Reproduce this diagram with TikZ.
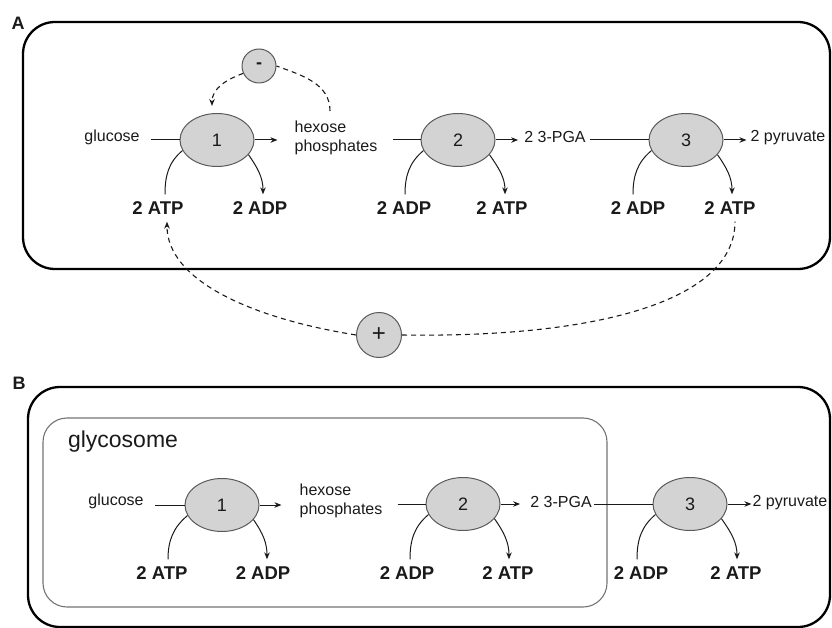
\documentclass[tikz,border=0pt]{standalone}
\usepackage{fontspec}
\setmainfont{Liberation Sans}
\usetikzlibrary{arrows.meta,shapes.geometric}
\definecolor{enzfill}{HTML}{D3D3D3}
\definecolor{enzline}{HTML}{5A5A5A}
\definecolor{txt}{HTML}{1A1A1A}
\begin{document}
\begin{tikzpicture}[x=1pt,y=-1pt,
  enz/.style={ellipse,draw=enzline,fill=enzfill,line width=1pt,minimum width=74pt,minimum height=53pt,inner sep=0pt,text=txt,font=\fontsize{18}{20}\selectfont},
  reg/.style={circle,draw=enzline,fill=enzfill,line width=1pt,minimum size=#1,inner sep=0pt,text=txt},
  met/.style={font=\fontsize{16}{19}\selectfont,inner sep=1pt,text=txt},
  nuc/.style={font=\bfseries\fontsize{18.5}{20}\selectfont,inner xsep=1pt,inner ysep=7pt,text=txt},
  panel/.style={font=\bfseries\fontsize{18}{20}\selectfont,inner sep=0pt,text=txt},
  flow/.style={line width=1pt,draw=txt,-{Stealth[length=7pt,width=5.5pt]}},
  plainln/.style={line width=1pt,draw=txt},
  fb/.style={line width=1.1pt,draw=txt,dash pattern=on 5pt off 4pt},
  fbarrow/.style={fb,-{Stealth[length=7pt,width=5.5pt]}},
  outerbox/.style={line width=2.3pt,draw=black,rounded corners=32pt},
  glybox/.style={line width=1.1pt,draw=black!55,rounded corners=24pt},
]
\useasboundingbox (0,0) rectangle (832,628);

% ---------------- Panel A ----------------
\node[panel] (labA) at (18,23) {A};
\draw[outerbox] (23,22) rectangle (830,269);

\node[enz] (a1) at (217,140) {1};
\node[enz] (a2) at (458,140) {2};
\node[enz] (a3) at (686,140) {3};

\node[met] (aglu) at (112,137) {glucose};
\node[met,align=left] (ahex) at (336,138) {hexose\\phosphates};
\node[met] (apga) at (555,137) {2 3-PGA};
\node[met] (apyr) at (788,138) {2 pyruvate};

\node[nuc] (aatp1) at (158,208) {2 ATP};
\node[nuc] (aadp1) at (260,208) {2 ADP};
\node[nuc] (aadp2) at (404,208) {2 ADP};
\node[nuc] (aatp2) at (502,208) {2 ATP};
\node[nuc] (aadp3) at (638,208) {2 ADP};
\node[nuc] (aatp3) at (730,208) {2 ATP};

\node[reg=34pt,font=\bfseries\fontsize{18}{20}\selectfont] (minus) at (259,66) {-};
\node[reg=45pt,font=\fontsize{24}{24}\selectfont] (plus) at (379,335) {+};

\draw[plainln,shorten <=10pt] (aglu.east |- a1.west) -- (a1.west);
\draw[flow,shorten >=16pt] (a1.east) -- (a1.east -| ahex.west);
\draw[plainln,shorten <=14pt] (ahex.east |- a2.west) -- (a2.west);
\draw[flow,shorten >=5pt] (a2.east) -- (a2.east -| apga.west);
\draw[plainln,shorten <=3pt] (apga.east |- a3.west) -- (a3.west);
\draw[flow,shorten >=3pt] (a3.east) -- (a3.east -| apyr.west);

\draw[plainln] ([xshift=7pt]aatp1.north) to[out=90,in=220] (a1.197);
\draw[flow] (a1.335) to[out=-55,in=90] ([xshift=3pt]aadp1.north);
\draw[plainln] ([xshift=1pt]aadp2.north) to[out=90,in=220] (a2.197);
\draw[flow] (a2.335) to[out=-55,in=90] ([xshift=3pt]aatp2.north);
\draw[plainln] ([xshift=-5pt]aadp3.north) to[out=90,in=220] (a3.197);
\draw[flow] (a3.335) to[out=-55,in=90] ([xshift=2pt]aatp3.north);

% feedback (-)
\coordinate (hexTop) at (330,111);
\coordinate (e1Top) at (212,106);
\draw[fb] (hexTop) to[out=90,in=-20] (minus.east);
\draw[fbarrow] (minus.205) to[out=200,in=90] (e1Top);

% feedback (+)
\draw[fbarrow] (plus.west) .. controls (250,318) and (167,280) .. ([xshift=9pt]aatp1.south);
\draw[fb] (plus.east) .. controls (600,338) and (735,300) .. ([xshift=5pt]aatp3.south);

% ---------------- Panel B ----------------
\node[panel] (labB) at (19,383) {B};
\draw[outerbox] (28,387) rectangle (830,627);
\draw[glybox] (43,418) rectangle (607,607);
\node[font=\fontsize{23}{25}\selectfont,inner sep=0pt,text=txt] (gly) at (123,442) {glycosome};

\node[enz] (b1) at (222,505) {1};
\node[enz] (b2) at (463,504) {2};
\node[enz] (b3) at (690,504) {3};

\node[met] (bglu) at (116,501) {glucose};
\node[met,align=left] (bhex) at (341,501) {hexose\\phosphates};
\node[met] (bpga) at (561,502) {2 3-PGA};
\node[met] (bpyr) at (790,503) {2 pyruvate};

\node[nuc] (batp1) at (162,573) {2 ATP};
\node[nuc] (badp1) at (263,573) {2 ADP};
\node[nuc] (badp2) at (407,573) {2 ADP};
\node[nuc] (batp2) at (508,573) {2 ATP};
\node[nuc] (badp3) at (641,573) {2 ADP};
\node[nuc] (batp3) at (736,573) {2 ATP};

\draw[plainln,shorten <=10pt] (bglu.east |- b1.west) -- (b1.west);
\draw[flow,shorten >=17pt] (b1.east) -- (b1.east -| bhex.west);
\draw[plainln,shorten <=14pt] (bhex.east |- b2.west) -- (b2.west);
\draw[flow,shorten >=9pt] (b2.east) -- (b2.east -| bpga.west);
\draw[plainln,shorten <=1pt] (bpga.east |- b3.west) -- (b3.west);
\draw[flow,shorten >=0pt] (b3.east) -- (b3.east -| bpyr.west);

\draw[plainln] ([xshift=6pt]batp1.north) to[out=90,in=220] (b1.197);
\draw[flow] (b1.335) to[out=-55,in=90] ([xshift=4pt]badp1.north);
\draw[plainln] ([xshift=3pt]badp2.north) to[out=90,in=220] (b2.197);
\draw[flow] (b2.335) to[out=-55,in=90] ([xshift=1pt]batp2.north);
\draw[plainln] ([xshift=-4pt]badp3.north) to[out=90,in=220] (b3.197);
\draw[flow] (b3.335) to[out=-55,in=90] ([xshift=1pt]batp3.north);
\end{tikzpicture}
\end{document}
